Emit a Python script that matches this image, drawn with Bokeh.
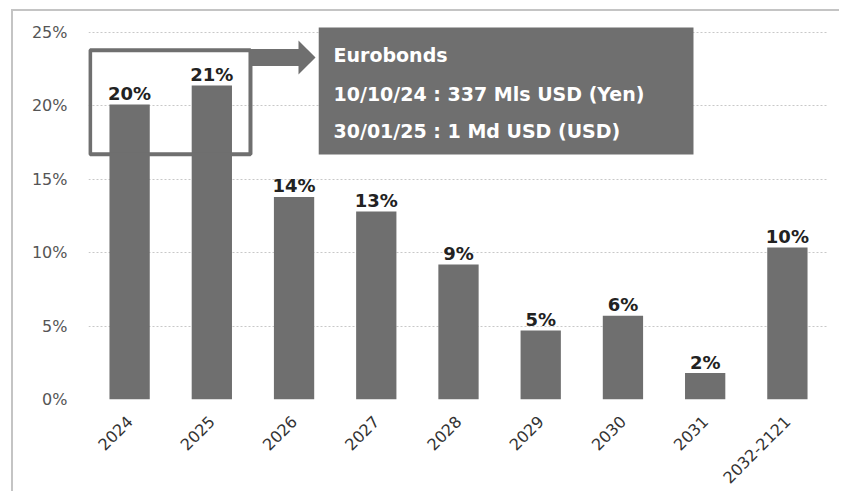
import math
from bokeh.plotting import figure
from bokeh.models import FactorRange, Range1d, FixedTicker, PrintfTickFormatter, ColumnDataSource
from bokeh.core.properties import value
from bokeh.embed import file_html
from bokeh.resources import INLINE

# ---- data ----
categories = ["2024", "2025", "2026", "2027", "2028", "2029", "2030", "2031", "2032-2121"]
shares = [20.1, 21.4, 13.8, 12.8, 9.2, 4.7, 5.7, 1.8, 10.35]
bar_labels = ["20%", "21%", "14%", "13%", "9%", "5%", "6%", "2%", "10%"]
y_ticks = [0, 5, 10, 15, 20, 25]
box_lines = ["Eurobonds", "10/10/24 : 337 Mls USD (Yen)", "30/01/25 : 1 Md USD (USD)"]

GRAY = "#6f6f6f"
FONT = "DejaVu Sans"

src = ColumnDataSource(dict(cat=categories, val=shares, lbl=bar_labels))

p = figure(
    x_range=FactorRange(*categories, range_padding=0),
    y_range=Range1d(0, 25.82),
    width=828, height=482,
    output_backend="svg", toolbar_location=None,
    min_border_left=75, min_border_right=13, min_border_top=9, min_border_bottom=94,
)
p.styles = {"position": "relative", "left": "13px", "top": "11px",
            "box-shadow": "-2px -2px 0px 0px #c4c4c4"}
p.outline_line_color = None
p.background_fill_color = "white"
p.border_fill_color = "white"

# grid
p.xgrid.grid_line_color = None
p.ygrid.grid_line_color = "#c8c8c8"
p.ygrid.grid_line_dash = "2 2"
p.ygrid.grid_line_width = 1

# axes
p.yaxis.ticker = FixedTicker(ticks=y_ticks)
p.yaxis.formatter = PrintfTickFormatter(format="%d%%")
for ax in (p.xaxis, p.yaxis):
    ax.axis_line_color = None
    ax.major_tick_line_color = None
    ax.minor_tick_line_color = None
    ax.major_tick_out = 0
    ax.major_tick_in = 0
p.yaxis.major_label_standoff = 21
p.yaxis.major_label_text_font = FONT
p.yaxis.major_label_text_font_size = "16px"
p.yaxis.major_label_text_color = "#555555"
p.xaxis.major_label_orientation = math.pi / 4
p.xaxis.major_label_standoff = 19
p.xaxis.major_label_text_font = FONT
p.xaxis.major_label_text_font_size = "16px"
p.xaxis.major_label_text_color = "#333333"

# bars
p.vbar(x="cat", top="val", width=0.49, source=src, fill_color=GRAY, line_color=None)
p.text(x="cat", y="val", text="lbl", source=src, text_align="center", text_baseline="alphabetic",
       y_offset=-11, text_font=value(FONT), text_font_style="bold", text_font_size="18px",
       text_color="#222222")

# highlight frame around 2024-2025
p.quad(left=[0.02], right=[1.97], top=[23.79], bottom=[16.71], fill_color=None,
       line_color=GRAY, line_width=4)

# arrow
p.patch(x=[1.97, 2.554, 2.554, 2.761, 2.554, 2.554, 1.97],
        y=[23.88, 23.88, 24.46, 23.30, 22.14, 22.72, 22.72],
        fill_color=GRAY, line_color=None)

# info box
p.quad(left=[2.80], right=[7.358], top=[25.34], bottom=[16.69], fill_color=GRAY, line_color=None)
p.text(x=[2.98, 2.98, 2.98], y=[23.50, 20.78, 18.26], text=box_lines,
       text_align="left", text_baseline="alphabetic", text_font=value(FONT),
       text_font_style="bold", text_font_size="19px", text_color="white")

open("out.html", "w").write(file_html(p, INLINE))
